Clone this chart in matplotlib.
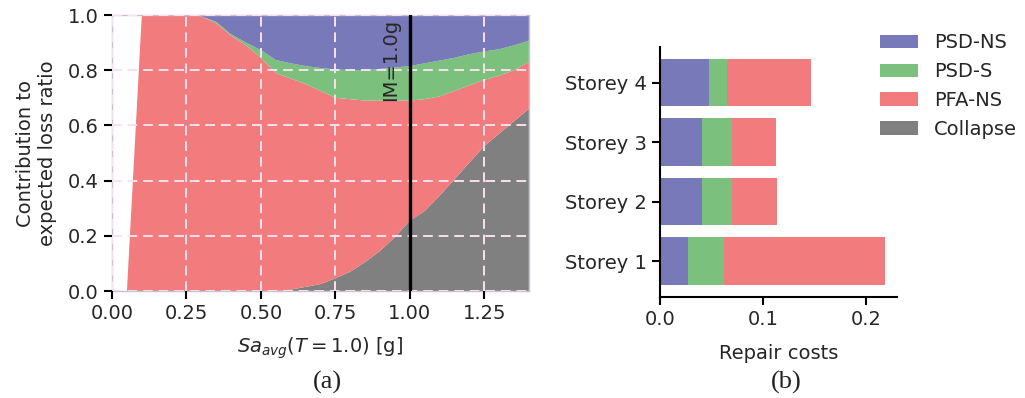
import matplotlib.pyplot as plt
import numpy as np

# ---- data (a): contributions vs intensity
im = [0, 0.05, 0.1, 0.2, 0.27, 0.3, 0.35, 0.4, 0.45, 0.5, 0.55, 0.6, 0.65, 0.7,
      0.75, 0.8, 0.85, 0.9, 0.95, 1.0, 1.05, 1.1, 1.15, 1.2, 1.25, 1.3, 1.35, 1.4]
collapse = [0, 0, 0, 0, 0, 0, 0, 0, 0, 0, 0, 0.005, 0.015, 0.025, 0.046, 0.07,
            0.105, 0.145, 0.195, 0.255, 0.29, 0.345, 0.405, 0.465, 0.525, 0.57, 0.615, 0.66]
pfa_ns = [0, 0, 1, 1, 1, 0.995, 0.97, 0.925, 0.89, 0.845, 0.79, 0.765, 0.735, 0.70,
          0.654, 0.625, 0.585, 0.545, 0.495, 0.435, 0.405, 0.36, 0.32, 0.28, 0.24, 0.21, 0.185, 0.17]
psd_s = [0, 0, 0, 0, 0, 0, 0.005, 0.005, 0.01, 0.028, 0.047, 0.055, 0.065, 0.083,
         0.103, 0.105, 0.11, 0.115, 0.12, 0.125, 0.13, 0.13, 0.12, 0.113, 0.103, 0.096, 0.09, 0.077]
psd_ns = [0, 0, 0, 0, 0, 0.005, 0.025, 0.07, 0.10, 0.127, 0.163, 0.175, 0.185, 0.192,
          0.197, 0.20, 0.20, 0.195, 0.19, 0.185, 0.175, 0.165, 0.155, 0.142, 0.132, 0.124, 0.11, 0.093]

# ---- data (b): repair costs per storey
storeys = ["Storey 1", "Storey 2", "Storey 3", "Storey 4"]
rc_psd_ns = [0.0272, 0.0408, 0.0408, 0.0476]
rc_psd_s = [0.0346, 0.0292, 0.0292, 0.0178]
rc_pfa_ns = [0.157, 0.0438, 0.0426, 0.0816]
rc_collapse = [0, 0, 0, 0]

labels = ["PSD-NS", "PSD-S", "PFA-NS", "Collapse"]
c_blue = "#7779B8"
c_green = "#7CC07D"
c_red = "#F27B7D"
c_gray = "#808080"
txt = "#262626"

plt.rcParams['font.family'] = 'DejaVu Sans'
plt.rcParams['font.size'] = 14
plt.rcParams['text.color'] = txt
plt.rcParams['axes.labelcolor'] = txt
plt.rcParams['xtick.color'] = 'black'
plt.rcParams['ytick.color'] = 'black'
plt.rcParams['xtick.labelcolor'] = txt
plt.rcParams['ytick.labelcolor'] = txt

fig = plt.figure(figsize=(10.25, 3.98), dpi=100)
ax1 = fig.add_axes([0.1093, 0.2688, 0.4067, 0.6935])
ax2 = fig.add_axes([0.644, 0.2545, 0.231, 0.6275])

# (a)
ax1.stackplot(im, collapse, pfa_ns, psd_s, psd_ns,
              colors=[c_gray, c_red, c_green, c_blue], lw=0)
ax1.set_xlim(0, 1.4)
ax1.set_ylim(0, 1.0)
ax1.set_xticks([0, 0.25, 0.5, 0.75, 1.0, 1.25])
ax1.set_yticks([0, 0.2, 0.4, 0.6, 0.8, 1.0])
ax1.grid(True, color="#f7e1ec", linestyle=(0, (5, 3)), linewidth=1.4)
ax1.set_axisbelow(False)
for s in ax1.spines.values():
    s.set_color("#cbbfd3")
    s.set_linewidth(1)
ax1.tick_params(length=6, width=1.5)
ax1.axvline(1.0, color='black', lw=2.4, zorder=5)
ax1.text(0.935, 0.985, "IM=1.0g", rotation=90, ha='center', va='top', fontsize=14)
ax1.set_xlabel("$Sa_{avg}(T=1.0)$ [g]", labelpad=9)
ax1.set_ylabel("Contribution to\nexpected loss ratio", labelpad=8)

# (b)
y = np.arange(len(storeys))
left = np.zeros(len(storeys))
for vals, col, lab in zip([rc_psd_ns, rc_psd_s, rc_pfa_ns, rc_collapse],
                          [c_blue, c_green, c_red, c_gray], labels):
    ax2.barh(y, vals, left=left, height=0.8, color=col, label=lab)
    left = left + np.array(vals)
ax2.set_yticks(y)
ax2.set_yticklabels(storeys)
ax2.set_xlim(0, 0.23)
ax2.set_ylim(-0.6, 3.6)
ax2.set_xticks([0, 0.1, 0.2])
ax2.set_xticklabels(["0.0", "0.1", "0.2"])
ax2.spines['top'].set_visible(False)
ax2.spines['right'].set_visible(False)
ax2.spines['left'].set_linewidth(1.5)
ax2.spines['bottom'].set_linewidth(1.5)
ax2.tick_params(length=6, width=1.5)
ax2.set_xlabel("Repair costs", labelpad=11)

fig.legend(loc='upper left', bbox_to_anchor=(0.841, 0.960), frameon=False,
           handlelength=2.0, handleheight=0.7, labelspacing=0.5, fontsize=14)

fig.text(327 / 1025, 1 - 382 / 398, "(a)", family="Liberation Serif", fontsize=19,
         ha='center', va='center', color='#222222')
fig.text(786 / 1025, 1 - 382 / 398, "(b)", family="Liberation Serif", fontsize=19,
         ha='center', va='center', color='#222222')

fig.savefig("out.png", dpi=100)
